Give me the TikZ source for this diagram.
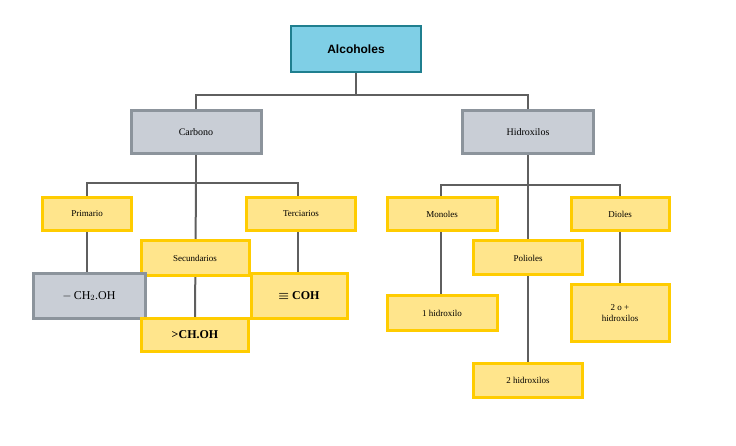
\documentclass[tikz,border=0pt]{standalone}
\usepackage{amsmath}
\usepackage{fontspec}
\setmainfont{Liberation Serif}
\newfontfamily\headfont{Liberation Sans}
\usepackage{tikz}
\usetikzlibrary{positioning,calc}

\definecolor{yelfill}{HTML}{FFE58C}
\definecolor{yeldraw}{HTML}{FFCC00}
\definecolor{grayfill}{HTML}{C9CED6}
\definecolor{graydraw}{HTML}{8C949C}
\definecolor{headfill}{HTML}{7FCFE6}
\definecolor{headdraw}{HTML}{1F7F8F}
\definecolor{linecol}{HTML}{5F5F5F}

\begin{document}
\begin{tikzpicture}[
    x=1pt, y=-1pt,
    head/.style={draw=headdraw, fill=headfill, line width=2.5pt, font=\headfont\bfseries\large, inner sep=0pt},
    grey/.style={draw=graydraw, fill=grayfill, line width=3pt, inner sep=0pt},
    yel/.style={draw=yeldraw, fill=yelfill, line width=3pt, inner sep=0pt, font=\small},
    link/.style={linecol, line width=2pt}
]
    % Frame
    \useasboundingbox (0,0) rectangle (736,446);

    % Connector bends
    \coordinate (top) at (356,95);
    \coordinate (carbj) at (196,183);
    \coordinate (hidj) at (528,185);

    % Links (behind the boxes)
    \draw[link] (356,73) -- (top) -| (196,110);
    \draw[link] (top) -| (528,110);
    \draw[link] (196,155) -- (carbj);
    \draw[link] (87,197) |- (298,183) -- (298,197);
    \draw[link] (87,232) -- (87,273);
    \draw[link] (carbj) -- (195,318);
    \draw[link] (298,232) -- (298,273);
    \draw[link] (528,155) -- (hidj);
    \draw[link] (441,197) |- (620,185) -- (620,197);
    \draw[link] (441,232) -- (441,295);
    \draw[link] (hidj) -- (528,362);
    \draw[link] (620,232) -- (620,284);

    % Top level
    \node[head, minimum width=130pt, minimum height=46pt] (alc) at (356,49) {Alcoholes};
    \node[grey, minimum width=130pt, minimum height=43pt] (carb) at (196,132) {Carbono};
    \node[grey, minimum width=131pt, minimum height=43pt] (hidr) at (528,132) {Hidroxilos};

    % Carbono side
    \node[yel, minimum width=89pt, minimum height=33pt] (prim) at (87,214) {Primario};
    \node[yel, minimum width=109pt, minimum height=33pt] (terc) at (301,214) {Terciarios};
    \node[yel, minimum width=108pt, minimum height=35pt] (secu) at (195,258) {Secundarios};
    \node[grey, minimum width=112pt, minimum height=45pt, font=\large] (ch2) at (89,296) {$-$\,CH$_2$.OH};
    \node[yel, minimum width=96pt, minimum height=45pt, font=\large\bfseries] (coh) at (299,296) {$\boldsymbol{\equiv}$ COH};
    \node[yel, minimum width=107pt, minimum height=33pt, font=\large\bfseries] (chh) at (195,335) {>CH.OH};

    % Hidroxilos side
    \node[yel, minimum width=110pt, minimum height=33pt] (mono) at (442,214) {Monoles};
    \node[yel, minimum width=98pt, minimum height=33pt] (diol) at (620,214) {Dioles};
    \node[yel, minimum width=109pt, minimum height=34pt] (poli) at (528,258) {Polioles};
    \node[yel, minimum width=110pt, minimum height=35pt] (uno) at (442,313) {1 hidroxilo};
    \node[yel, minimum width=98pt, minimum height=57pt, align=center] (dos) at (620,313) {2 o +\\hidroxilos};
    \node[yel, minimum width=109pt, minimum height=34pt] (poli2) at (528,380) {2 hidroxilos};
\end{tikzpicture}
\end{document}
